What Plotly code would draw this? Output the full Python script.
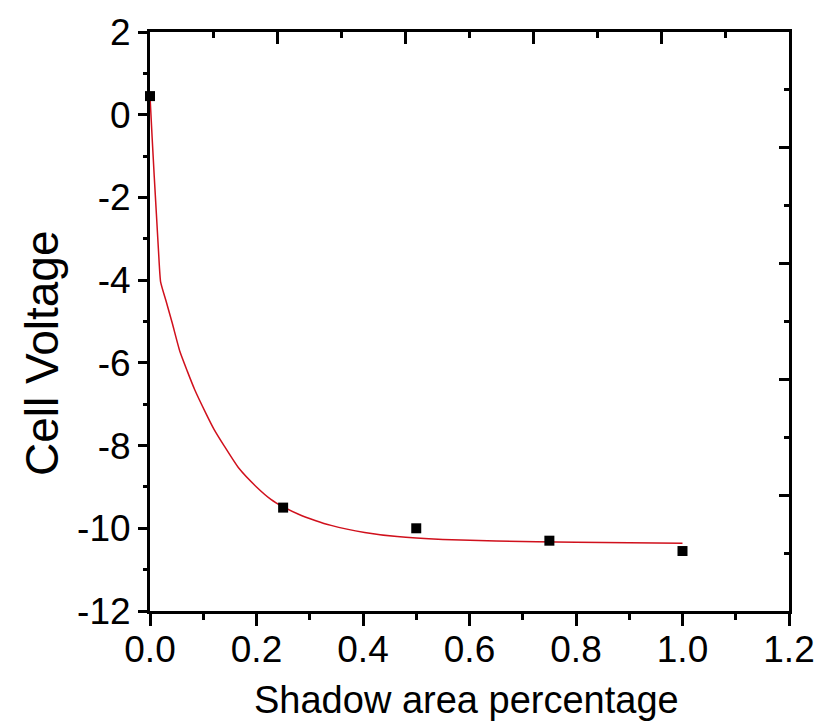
import plotly.graph_objects as go

# Measured points
shadow = [0.0, 0.25, 0.5, 0.75, 1.0]
voltage = [0.45, -9.5, -10.0, -10.3, -10.55]

# Fitted decay curve, sampled along its path
fit_x = [0.0, 0.004, 0.008, 0.012, 0.016, 0.02, 0.03, 0.042, 0.056, 0.07, 0.084,
         0.105, 0.12, 0.139, 0.167, 0.2, 0.227, 0.25, 0.279, 0.31, 0.34, 0.403,
         0.464, 0.55, 0.65, 0.8, 1.0]
fit_y = [0.45, -0.55, -1.5, -2.4, -3.3, -4.05, -4.5, -5.05, -5.72, -6.2, -6.65,
         -7.22, -7.6, -8.0, -8.55, -9.0, -9.3, -9.48, -9.66, -9.81, -9.93, -10.1,
         -10.2, -10.27, -10.31, -10.34, -10.36]

x_ticks = [0.0, 0.2, 0.4, 0.6, 0.8, 1.0, 1.2]
x_tick_text = ["0.0", "0.2", "0.4", "0.6", "0.8", "1.0", "1.2"]
y_ticks = [2, 0, -2, -4, -6, -8, -10, -12]
y_tick_text = ["2", "0", "-2", "-4", "-6", "-8", "-10", "-12"]

FONT = "Liberation Sans, Arial, sans-serif"

fig = go.Figure()
fig.add_trace(go.Scatter(x=fit_x, y=fit_y, mode="lines",
                         line=dict(color="#d0101c", width=1.5, shape="spline", smoothing=0.5),
                         hoverinfo="skip", showlegend=False))
fig.add_trace(go.Scatter(x=shadow, y=voltage, mode="markers",
                         marker=dict(symbol="square", size=10, color="black"),
                         cliponaxis=False, showlegend=False))

fig.update_layout(
    width=827, height=721,
    margin=dict(l=150, r=31, t=30, b=110),
    paper_bgcolor="white", plot_bgcolor="white",
    font=dict(family=FONT, color="black"),
    xaxis=dict(range=[0, 1.2], tickvals=x_ticks, ticktext=x_tick_text,
               showline=True, linecolor="black", linewidth=3,
               ticks="outside", ticklen=12, tickwidth=3, tickcolor="black",
               minor=dict(dtick=0.1, ticks="outside", ticklen=6, tickwidth=3, tickcolor="black"),
               showgrid=False, zeroline=False,
               tickfont=dict(size=37, family=FONT), ticklabelstandoff=-8),
    yaxis=dict(range=[-12, 2], tickvals=y_ticks, ticktext=y_tick_text,
               showline=True, linecolor="black", linewidth=3,
               ticks="outside", ticklen=9, tickwidth=3, tickcolor="black",
               minor=dict(dtick=1, ticks="outside", ticklen=4, tickwidth=3, tickcolor="black"),
               showgrid=False, zeroline=False,
               tickfont=dict(size=37, family=FONT), ticklabelstandoff=0),
    # frame on top and right with its own inward tick spacing
    xaxis2=dict(overlaying="x", side="top", range=[0, 10], dtick=2,
                showticklabels=False, showline=True, linecolor="black", linewidth=3,
                ticks="inside", ticklen=12, tickwidth=3, tickcolor="black",
                minor=dict(dtick=1, ticks="inside", ticklen=6, tickwidth=3, tickcolor="black"),
                showgrid=False, zeroline=False),
    yaxis2=dict(overlaying="y", side="right", range=[0, 10], dtick=2,
                showticklabels=False, showline=True, linecolor="black", linewidth=3,
                ticks="inside", ticklen=10, tickwidth=3, tickcolor="black",
                minor=dict(dtick=1, ticks="inside", ticklen=5, tickwidth=3, tickcolor="black"),
                showgrid=False, zeroline=False),
    annotations=[
        dict(text="Shadow area percentage", xref="paper", yref="paper",
             x=0.495, y=-0.114, xanchor="center", yanchor="top", showarrow=False,
             font=dict(size=38, family=FONT)),
        dict(text="Cell Voltage", xref="paper", yref="paper",
             x=-0.168, y=0.445, xanchor="center", yanchor="middle", textangle=-90,
             showarrow=False, font=dict(size=46, family=FONT)),
    ],
)
fig.add_trace(go.Scatter(x=[], y=[], xaxis="x2", yaxis="y2", showlegend=False))

fig.write_html("out.html")
